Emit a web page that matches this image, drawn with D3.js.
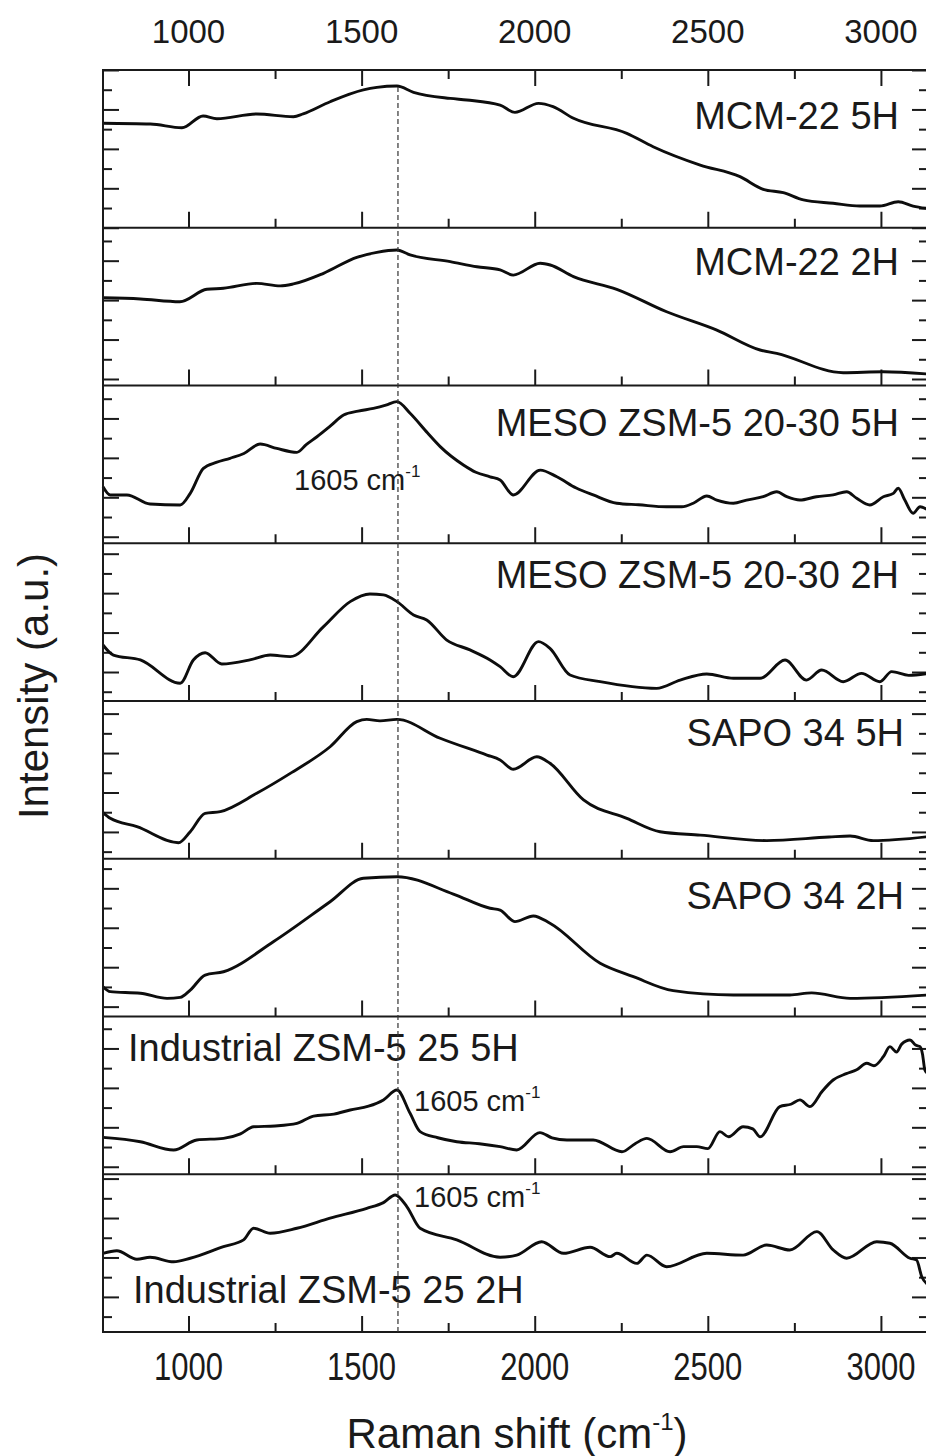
<!DOCTYPE html>
<html><head><meta charset="utf-8">
<script src="https://cdn.jsdelivr.net/npm/d3@7"></script>
<style>body{margin:0;background:#fff}svg{display:block}text{font-family:"Liberation Sans",Arial,sans-serif;fill:#1a1a1a}</style>
</head><body><svg id="c" width="926" height="1456"></svg>
<script>
// ---------- data ----------
const xDomain = [753, 3136];
const xTicksMajor = [1000, 1500, 2000, 2500, 3000];
const xTicksMinor = [1250, 1750, 2250, 2750];
const peakPosition = 1605;
const panelNames = ["MCM-22 5H", "MCM-22 2H", "MESO ZSM-5 20-30 5H", "MESO ZSM-5 20-30 2H",
  "SAPO 34 5H", "SAPO 34 2H", "Industrial ZSM-5 25 5H", "Industrial ZSM-5 25 2H"];
// y tick phase (first tick above panel bottom, in tick units) and whether that first tick is major
const yTickPhase = [0, 0.33, 0.33, 0.47, 0.36, 0.50, 0.38, 0.78];
const yFirstMajor = [true, true, true, false, false, true, true, false];

const mcm22_5H = [[753,5.30],[890,5.26],[981,5.07],[1042,5.67],[1082,5.53],[1197,5.77],[1303,5.63],[1331,5.77],
  [1409,6.39],[1505,6.99],[1544,7.12],[1602,7.19],[1650,6.87],[1756,6.56],[1804,6.48],[1900,6.22],[1943,5.85],
  [2011,6.31],[2053,6.14],[2112,5.55],[2266,4.79],[2342,4.11],[2478,3.18],[2593,2.59],[2660,1.95],[2718,1.78],
  [2776,1.41],[2862,1.24],[2939,1.10],[2997,1.10],[3050,1.32],[3093,1.10],[3136,0.97]];
const mcm22_2H = [[753,4.45],[861,4.39],[975,4.25],[1053,4.88],[1101,4.93],[1197,5.18],[1265,5.05],[1303,5.15],
  [1390,5.69],[1486,6.50],[1544,6.75],[1602,6.87],[1640,6.62],[1756,6.28],[1833,6.02],[1900,5.86],[1938,5.60],
  [2016,6.20],[2045,6.11],[2112,5.52],[2237,4.88],[2381,3.74],[2526,2.81],[2651,1.80],[2699,1.63],[2891,0.65],
  [3007,0.70],[3136,0.58]];
const meso_5H = [[753,2.87],[774,2.45],[822,2.45],[889,1.99],[976,1.94],[1005,2.53],[1043,3.80],[1080,4.10],
  [1120,4.31],[1160,4.55],[1207,5.03],[1255,4.81],[1313,4.61],[1340,5.00],[1371,5.40],[1410,5.95],[1448,6.50],
  [1490,6.70],[1534,6.84],[1570,7.00],[1602,7.18],[1640,6.59],[1690,5.60],[1727,4.90],[1794,3.97],[1830,3.60],
  [1871,3.37],[1900,3.21],[1938,2.45],[2016,3.71],[2064,3.37],[2120,2.80],[2169,2.45],[2237,2.03],[2300,1.95],
  [2381,1.85],[2425,1.85],[2458,2.03],[2497,2.40],[2526,2.19],[2574,2.03],[2612,2.19],[2660,2.36],[2699,2.61],
  [2728,2.36],[2766,2.19],[2814,2.36],[2862,2.45],[2901,2.61],[2930,2.28],[2968,1.94],[3007,2.36],[3036,2.53],
  [3050,2.79],[3069,2.19],[3093,1.52],[3113,1.85],[3136,1.69]];
const meso_2H = [[753,2.84],[783,2.33],[861,2.08],[976,0.90],[1014,2.08],[1048,2.45],[1096,1.88],[1180,2.10],
  [1236,2.33],[1294,2.25],[1390,3.77],[1467,5.04],[1524,5.43],[1563,5.38],[1602,5.04],[1650,4.36],[1688,4.11],
  [1746,3.09],[1813,2.59],[1871,2.08],[1900,1.74],[1938,1.23],[2011,3.01],[2044,2.67],[2102,1.32],[2189,0.98],
  [2352,0.64],[2420,1.06],[2497,1.37],[2574,1.15],[2651,1.15],[2723,2.08],[2785,1.06],[2829,1.57],[2891,0.98],
  [2944,1.40],[2997,0.98],[3031,1.49],[3080,1.30],[3136,1.40]];
const sapo_5H = [[753,2.34],[774,2.05],[851,1.63],[971,0.81],[1005,1.37],[1048,2.30],[1092,2.39],[1197,3.32],
  [1294,4.33],[1409,5.68],[1486,6.95],[1515,7.07],[1553,6.99],[1602,7.07],[1727,6.11],[1862,5.26],[1900,5.01],
  [1938,4.54],[2006,5.17],[2044,4.84],[2141,2.98],[2266,2.05],[2362,1.37],[2478,1.20],[2670,0.92],[2850,1.10],
  [2911,1.15],[2978,0.92],[3136,1.12]];
const sapo_2H = [[753,1.51],[774,1.26],[861,1.18],[938,0.92],[976,0.97],[1005,1.34],[1048,2.10],[1101,2.27],
  [1245,3.79],[1409,5.82],[1505,7.01],[1602,7.09],[1765,6.21],[1871,5.49],[1900,5.40],[1943,4.81],[1996,5.10],
  [2044,4.73],[2189,2.70],[2285,2.02],[2400,1.31],[2574,1.09],[2737,1.09],[2800,1.20],[2911,0.92],[3136,1.09]];
const ind_5H = [[753,1.87],[861,1.65],[957,1.23],[1024,1.74],[1101,1.82],[1150,2.05],[1188,2.41],[1250,2.45],
  [1313,2.58],[1361,2.95],[1420,3.05],[1467,3.26],[1520,3.45],[1563,3.77],[1602,4.27],[1640,3.09],[1669,2.16],
  [1720,1.85],[1775,1.65],[1840,1.55],[1900,1.40],[1948,1.23],[2015,2.11],[2050,1.85],[2093,1.74],[2169,1.74],
  [2252,1.14],[2290,1.55],[2324,1.82],[2391,1.14],[2430,1.40],[2468,1.40],[2500,1.30],[2535,2.16],[2560,1.90],
  [2602,2.41],[2630,2.30],[2651,1.90],[2708,3.43],[2740,3.55],[2766,3.77],[2795,3.43],[2830,4.20],[2862,4.78],
  [2900,5.10],[2930,5.30],[2959,5.63],[2980,5.50],[3007,5.96],[3026,6.47],[3045,6.20],[3060,6.60],[3084,6.81],
  [3100,6.55],[3113,6.47],[3120,6.10],[3127,5.29],[3136,5.10]];
const ind_2H = [[753,3.99],[793,4.12],[851,3.69],[889,3.79],[957,3.56],[1005,3.74],[1101,4.33],[1159,4.67],
  [1188,5.26],[1236,5.01],[1313,5.26],[1409,5.77],[1515,6.27],[1563,6.56],[1597,6.95],[1631,6.35],[1669,5.26],
  [1775,4.67],[1900,3.79],[1948,3.90],[2020,4.58],[2083,3.99],[2160,4.30],[2218,3.82],[2237,3.99],[2295,3.48],
  [2324,3.90],[2381,3.31],[2497,3.99],[2602,3.90],[2670,4.41],[2737,4.16],[2815,5.09],[2862,4.16],[2901,3.74],
  [2988,4.58],[3026,4.50],[3084,3.74],[3103,3.65],[3118,2.80],[3136,2.40]];
const series = [mcm22_5H, mcm22_2H, meso_5H, meso_2H, sapo_5H, sapo_2H, ind_5H, ind_2H];

// ---------- layout ----------
const L = 103, R = 928, T = 70, B = 1332;
const nP = series.length, pH = (B - T) / nP;
const svg = d3.select("#c");
const x = d3.scaleLinear().domain(xDomain).range([L, R]);
const ink = "#1a1a1a";

series.forEach((data, i) => {
  const top = T + i * pH, bot = top + pH;
  const y = d3.scaleLinear().domain([0, 8]).range([bot, top]);
  const g = svg.append("g");
  const ticks = d3.range(yTickPhase[i], 8.01, 1);
  const maj = ticks.filter((t, k) => (k % 2 === 0) === yFirstMajor[i]);
  const mnr = ticks.filter((t, k) => (k % 2 === 0) !== yFirstMajor[i]);
  const styleAxis = (sel) => { sel.select(".domain").remove(); sel.selectAll("line").attr("stroke", ink).attr("stroke-width", 2); sel.selectAll("text").remove(); };
  g.append("g").attr("transform", `translate(${L},0)`).call(d3.axisRight(y).tickValues(maj).tickSize(16)).call(styleAxis);
  g.append("g").attr("transform", `translate(${L},0)`).call(d3.axisRight(y).tickValues(mnr).tickSize(9)).call(styleAxis);
  g.append("g").attr("transform", `translate(${R},0)`).call(d3.axisLeft(y).tickValues(maj).tickSize(16)).call(styleAxis);
  g.append("g").attr("transform", `translate(${R},0)`).call(d3.axisLeft(y).tickValues(mnr).tickSize(9)).call(styleAxis);
  g.append("g").attr("transform", `translate(0,${bot})`).call(d3.axisTop(x).tickValues(xTicksMajor).tickSize(16)).call(styleAxis);
  g.append("g").attr("transform", `translate(0,${bot})`).call(d3.axisTop(x).tickValues(xTicksMinor).tickSize(9)).call(styleAxis);
  if (i === 0) {
    g.append("g").attr("transform", `translate(0,${top})`).call(d3.axisBottom(x).tickValues(xTicksMajor).tickSize(16)).call(styleAxis);
    g.append("g").attr("transform", `translate(0,${top})`).call(d3.axisBottom(x).tickValues(xTicksMinor).tickSize(9)).call(styleAxis);
  }
  g.append("line").attr("x1", L).attr("x2", R).attr("y1", bot).attr("y2", bot).attr("stroke", ink).attr("stroke-width", 2);
  const line = d3.line().x(d => x(d[0])).y(d => y(d[1])).curve(d3.curveMonotoneX);
  g.append("path").datum(data).attr("d", line).attr("fill", "none").attr("stroke", "#0d0d0d").attr("stroke-width", 2.9).attr("stroke-linejoin", "round");
  // labels
  const lab = g.append("text").attr("font-size", 38).text(panelNames[i]);
  if (i < 6) {
    const offs = [59, 47, 50, 45, 45, 50][i];
    lab.attr("x", i >= 4 ? 904 : 899).attr("y", top + offs).attr("text-anchor", "end");
  } else {
    lab.attr("x", i === 6 ? 128 : 133).attr("y", i === 6 ? top + 44 : top + 129);
  }
});

// frame
svg.append("rect").attr("x", L).attr("y", T).attr("width", R - L).attr("height", B - T)
  .attr("fill", "none").attr("stroke", ink).attr("stroke-width", 2);

// dashed marker
svg.append("line").attr("x1", x(peakPosition)).attr("x2", x(peakPosition)).attr("y1", 87).attr("y2", B)
  .attr("stroke", "#333").attr("stroke-width", 1.2).attr("stroke-dasharray", "5,3");

// 1605 annotations
function annot(xx, yy) {
  const t = svg.append("text").attr("x", xx).attr("y", yy).attr("font-size", 29);
  t.append("tspan").text(peakPosition + " cm");
  t.append("tspan").attr("font-size", 17).attr("dy", -13).text("-1");
}
annot(294, T + 2 * pH + 104);
annot(414, T + 6 * pH + 94);
annot(414, T + 7 * pH + 33);

// top tick labels
svg.append("g").selectAll("text").data(xTicksMajor).join("text")
  .attr("x", d => x(d)).attr("y", 43).attr("text-anchor", "middle").attr("font-size", 33).text(d => d);
// bottom tick labels
svg.append("g").selectAll("text").data(xTicksMajor).join("text")
  .attr("transform", d => `translate(${x(d)},1380) scale(0.97,1.2)`).attr("text-anchor", "middle").attr("font-size", 32).text(d => d);

// axis titles
const xt = svg.append("text").attr("x", 517).attr("y", 1448).attr("text-anchor", "middle").attr("font-size", 42);
xt.append("tspan").text("Raman shift (cm");
xt.append("tspan").attr("font-size", 24).attr("dy", -18).text("-1");
xt.append("tspan").attr("dy", 18).text(")");
svg.append("text").attr("transform", "translate(48,686) rotate(-90)").attr("text-anchor", "middle").attr("font-size", 42).text("Intensity (a.u.)");
</script></body></html>
